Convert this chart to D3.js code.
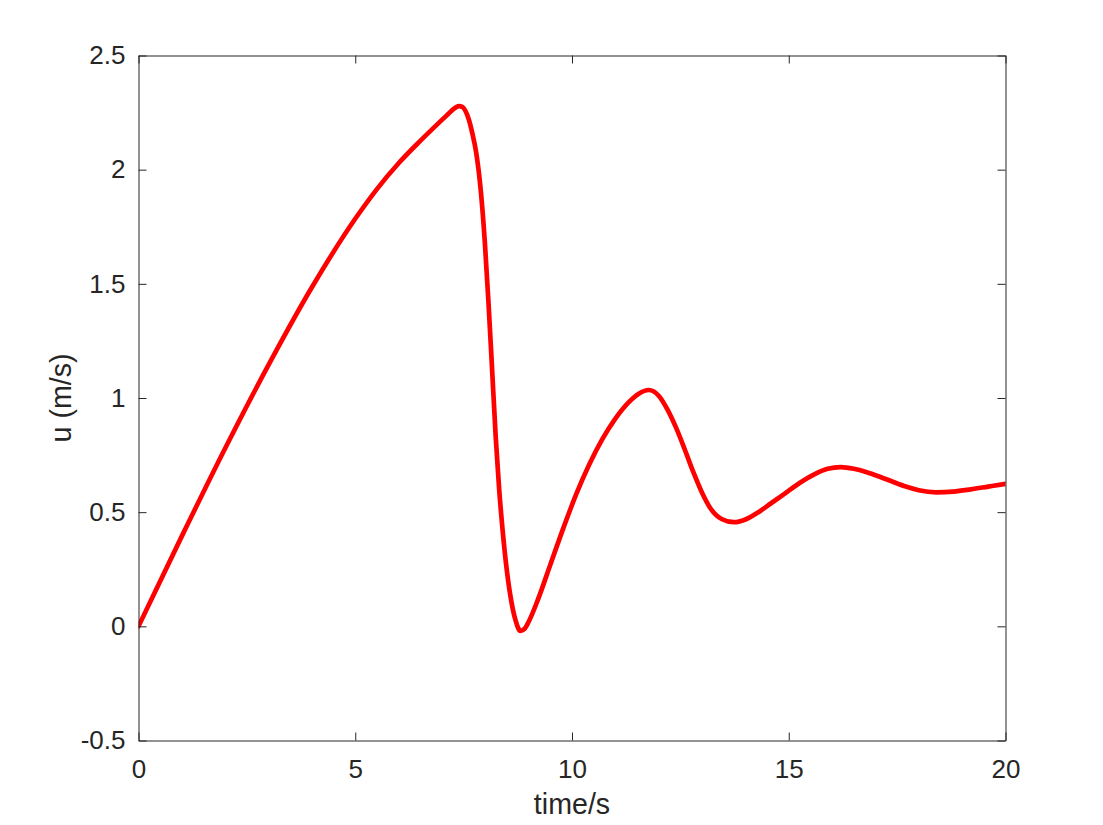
<!DOCTYPE html>
<html>
<head>
<meta charset="utf-8">
<script src="https://cdn.jsdelivr.net/npm/d3@7"></script>
<style>
  html, body { margin: 0; padding: 0; background: #ffffff; }
  svg { display: block; }
  text { font-family: "Liberation Sans", Arial, Helvetica, sans-serif; fill: #262626; }
</style>
</head>
<body>
<svg id="chart" width="1103" height="825"></svg>
<script>
// ---- data ----
const timeValues = [0, 1, 2, 3, 4, 5, 5.5, 6, 6.5, 7.0, 7.15, 7.25, 7.33, 7.4, 7.47, 7.54, 7.62, 7.7, 7.79, 7.9, 7.99, 8.07, 8.15, 8.24, 8.32, 8.4, 8.5, 8.6, 8.7, 8.81, 8.9, 9.0, 9.2, 9.5, 9.8, 10.1, 10.4, 10.7, 11.0, 11.3, 11.55, 11.77, 12.0, 12.2, 12.4, 12.6, 12.8, 13.0, 13.2, 13.45, 13.73, 14.0, 14.3, 14.6, 14.9, 15.25, 15.6, 15.9, 16.2, 16.5, 16.8, 17.1, 17.4, 17.7, 18.0, 18.4, 18.8, 19.2, 19.6, 20];
const uValues    = [0, 0.395, 0.78, 1.145, 1.485, 1.785, 1.915, 2.028, 2.126, 2.218, 2.245, 2.263, 2.274, 2.278, 2.275, 2.258, 2.22, 2.16, 2.075, 1.9, 1.68, 1.43, 1.15, 0.83, 0.6, 0.42, 0.24, 0.11, 0.025, -0.02, -0.012, 0.02, 0.11, 0.27, 0.43, 0.58, 0.71, 0.82, 0.91, 0.98, 1.02, 1.035, 1.01, 0.95, 0.87, 0.775, 0.675, 0.585, 0.515, 0.47, 0.456, 0.468, 0.5, 0.54, 0.58, 0.628, 0.667, 0.69, 0.697, 0.69, 0.675, 0.655, 0.633, 0.612, 0.596, 0.587, 0.59, 0.6, 0.612, 0.624];
const xTicks = [0, 5, 10, 15, 20];
const yTicks = [-0.5, 0, 0.5, 1, 1.5, 2, 2.5];
const xLabel = "time/s";
const yLabel = "u (m/s)";

(function () {
const data = timeValues.map((t, i) => ({ t: t, u: uValues[i] }));

const margin = { left: 138.5, right: 1103 - 1005.5, top: 55.5, bottom: 825 - 740.5 };
const W = 1103, H = 825;
const svg = d3.select("#chart");

const x = d3.scaleLinear().domain([0, 20]).range([margin.left, W - margin.right]);
const y = d3.scaleLinear().domain([-0.5, 2.5]).range([H - margin.bottom, margin.top]);

const axisColor = "#262626";
const tickLen = 8;
const tickFont = 26;
const labelFont = 28.6;

// line
const clipId = "plotclip";
svg.append("defs").append("clipPath").attr("id", clipId)
  .append("rect")
  .attr("x", x(0)).attr("y", y(2.5))
  .attr("width", x(20) - x(0)).attr("height", y(-0.5) - y(2.5));

svg.append("path")
  .datum(data)
  .attr("clip-path", "url(#" + clipId + ")")
  .attr("fill", "none")
  .attr("stroke", "#ff0000")
  .attr("stroke-width", 4.7)
  .attr("stroke-linejoin", "round")
  .attr("stroke-linecap", "round")
  .attr("d", d3.line().x(d => x(d.t)).y(d => y(d.u)).curve(d3.curveMonotoneX));

// axes (MATLAB-style box with inward ticks)
const fmt = d => String(d);

const gBottom = svg.append("g").attr("transform", `translate(0,${y(-0.5)})`)
  .call(d3.axisBottom(x).tickValues(xTicks).tickFormat(fmt).tickSizeInner(-tickLen).tickSizeOuter(0).tickPadding(19));
const gTop = svg.append("g").attr("transform", `translate(0,${y(2.5)})`)
  .call(d3.axisTop(x).tickValues(xTicks).tickFormat("").tickSizeInner(-tickLen).tickSizeOuter(0));
const gLeft = svg.append("g").attr("transform", `translate(${x(0)},0)`)
  .call(d3.axisLeft(y).tickValues(yTicks).tickFormat(fmt).tickSizeInner(-tickLen).tickSizeOuter(0).tickPadding(13));
const gRight = svg.append("g").attr("transform", `translate(${x(20)},0)`)
  .call(d3.axisRight(y).tickValues(yTicks).tickFormat("").tickSizeInner(-tickLen).tickSizeOuter(0));

[gBottom, gTop, gLeft, gRight].forEach(g => {
  g.select(".domain").attr("stroke", axisColor).attr("stroke-width", 1);
  g.selectAll(".tick line").attr("stroke", axisColor).attr("stroke-width", 1);
  g.selectAll(".tick text").attr("font-size", tickFont).attr("fill", axisColor)
    .attr("font-family", "'Liberation Sans', Arial, Helvetica, sans-serif");
});

// axis labels
svg.append("text")
  .attr("x", (x(0) + x(20)) / 2)
  .attr("y", 814)
  .attr("text-anchor", "middle")
  .attr("font-size", labelFont)
  .text(xLabel);

svg.append("text")
  .attr("transform", `translate(71,${(y(-0.5) + y(2.5)) / 2}) rotate(-90)`)
  .attr("text-anchor", "middle")
  .attr("font-size", labelFont)
  .text(yLabel);
})();
</script>
</body>
</html>
